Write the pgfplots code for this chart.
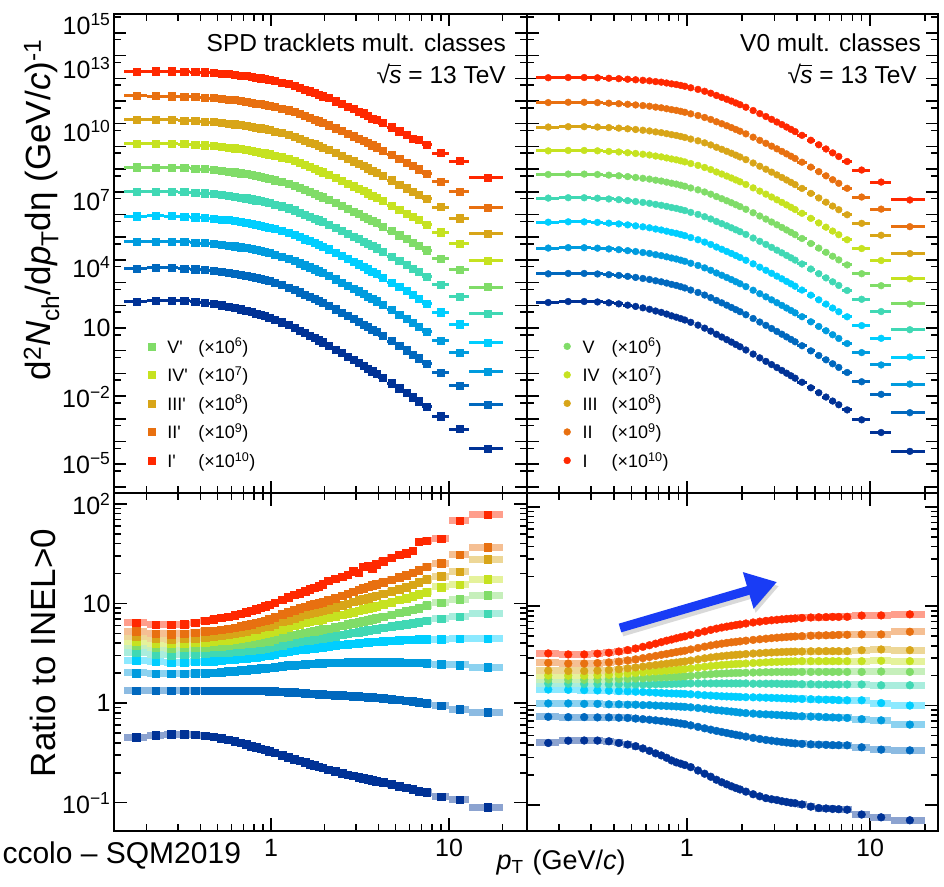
\documentclass[border=0pt]{standalone}
\usepackage{fontspec}
\setmainfont{Liberation Sans}
\usepackage{pgfplots}
\pgfplotsset{compat=1.18}
\usepackage{pgfplotstable}
\usetikzlibrary{arrows.meta}

\definecolor{cA}{RGB}{255,40,0}
\definecolor{cB}{RGB}{232,112,16}
\definecolor{cC}{RGB}{216,165,24}
\definecolor{cD}{RGB}{198,226,32}
\definecolor{cE}{RGB}{128,220,104}
\definecolor{cF}{RGB}{64,216,180}
\definecolor{cG}{RGB}{0,206,255}
\definecolor{cH}{RGB}{0,155,222}
\definecolor{cI}{RGB}{0,104,190}
\definecolor{cJ}{RGB}{0,50,150}
\definecolor{arrowblue}{RGB}{25,60,245}

% SPD tracklet classes: ratio to INEL>0 (c1 = I' ... c10 = X'), inel = INEL>0 spectrum
\pgfplotstableread{
pt ex inel c1 c2 c3 c4 c5 c6 c7 c8 c9 c10
0.175 0.025 31.6 6.4 5.25 4.7 4.2 3.8 3.25 2.68 2.01 1.33 0.455
0.225 0.025 33.1 6.15 5.0 4.45 4.0 3.6 3.1 2.6 1.98 1.33 0.475
0.275 0.025 33.1 6.15 4.95 4.4 3.95 3.55 3.05 2.57 1.97 1.33 0.49
0.325 0.025 31.6 6.2 5.0 4.45 4.0 3.6 3.1 2.58 1.98 1.33 0.49
0.375 0.025 29.5 6.4 5.1 4.5 4.05 3.62 3.12 2.6 1.99 1.33 0.48
0.425 0.025 27.5 6.75 5.25 4.6 4.1 3.65 3.15 2.62 2.01 1.33 0.47
0.475 0.025 25.1 7.0 5.35 4.7 4.15 3.7 3.2 2.65 2.03 1.33 0.46
0.525 0.025 22.9 7.2 5.45 4.8 4.25 3.75 3.22 2.68 2.05 1.33 0.445
0.575 0.025 20.9 7.4 5.6 4.9 4.3 3.8 3.25 2.72 2.08 1.33 0.43
0.625 0.025 19.1 7.65 5.75 5.0 4.4 3.85 3.3 2.75 2.1 1.33 0.415
0.675 0.025 17.0 7.9 5.9 5.15 4.5 3.9 3.33 2.79 2.13 1.33 0.40
0.725 0.025 15.5 8.2 6.05 5.3 4.6 3.95 3.37 2.83 2.15 1.33 0.385
0.775 0.025 13.8 8.5 6.25 5.45 4.7 4.0 3.42 2.87 2.18 1.33 0.372
0.825 0.025 12.3 8.8 6.4 5.55 4.8 4.05 3.46 2.91 2.2 1.33 0.36
0.875 0.025 11.2 9.1 6.6 5.7 4.9 4.1 3.5 2.95 2.23 1.33 0.35
0.925 0.025 10.0 9.4 6.75 5.85 5.0 4.15 3.55 2.99 2.25 1.33 0.34
0.975 0.025 8.91 9.7 6.95 5.95 5.1 4.2 3.6 3.03 2.27 1.32 0.33
1.05 0.05 7.41 10.2 7.3 6.2 5.3 4.35 3.7 3.12 2.31 1.31 0.318
1.15 0.05 6.03 10.9 7.8 6.55 5.55 4.55 3.82 3.22 2.35 1.30 0.302
1.25 0.05 4.79 11.6 8.2 6.85 5.8 4.7 3.94 3.3 2.39 1.29 0.288
1.35 0.05 3.80 12.3 8.6 7.15 6.05 4.85 4.05 3.37 2.42 1.28 0.275
1.45 0.05 2.95 12.8 9.0 7.45 6.25 5.0 4.15 3.43 2.44 1.27 0.264
1.55 0.05 2.37 13.4 9.3 7.7 6.45 5.1 4.22 3.48 2.46 1.26 0.254
1.65 0.05 1.91 14.0 9.6 7.9 6.6 5.2 4.3 3.53 2.48 1.25 0.245
1.75 0.05 1.56 14.5 9.9 8.1 6.75 5.3 4.36 3.58 2.5 1.24 0.237
1.85 0.05 1.27 15.0 10.1 8.3 6.85 5.4 4.42 3.62 2.51 1.235 0.23
1.95 0.05 1.05 15.6 10.3 8.45 7.0 5.5 4.48 3.66 2.52 1.23 0.224
2.1 0.1 0.791 17.0 10.8 8.8 7.2 5.6 4.58 3.72 2.54 1.22 0.215
2.3 0.1 0.555 17.8 11.4 9.2 7.5 5.8 4.72 3.8 2.55 1.21 0.206
2.5 0.1 0.397 18.6 12.0 9.6 7.75 6.0 4.85 3.86 2.56 1.2 0.198
2.7 0.1 0.290 19.5 12.6 10.0 8.0 6.2 4.97 3.92 2.57 1.19 0.192
2.9 0.1 0.215 21.0 13.2 10.4 8.25 6.35 5.08 3.97 2.57 1.18 0.186
3.1 0.1 0.162 20.5 13.8 10.8 8.5 6.5 5.18 4.02 2.57 1.17 0.18
3.3 0.1 0.124 23.5 14.3 11.1 8.75 6.7 5.28 4.06 2.57 1.16 0.176
3.5 0.1 0.0957 24.0 14.8 11.4 9.0 6.85 5.37 4.1 2.57 1.15 0.172
3.7 0.1 0.0750 22.5 15.2 11.7 9.2 7.0 5.46 4.13 2.57 1.14 0.168
3.9 0.1 0.0593 25.0 15.6 12.0 9.4 7.15 5.55 4.16 2.57 1.13 0.165
4.25 0.25 0.0403 26.5 16.3 12.6 9.8 7.4 5.7 4.2 2.57 1.12 0.16
4.75 0.25 0.0242 29.0 17.3 13.3 10.3 7.75 5.9 4.25 2.57 1.10 0.153
5.25 0.25 0.0152 31.0 18.3 14.0 10.9 8.1 6.05 4.3 2.57 1.08 0.147
5.75 0.25 0.00989 32.0 19.3 14.7 11.4 8.4 6.2 4.32 2.56 1.06 0.141
6.25 0.25 0.00665 34.0 20.5 15.5 11.9 8.7 6.35 4.34 2.55 1.04 0.136
6.75 0.25 0.00460 42.0 21.5 16.3 12.4 9.0 6.5 4.36 2.54 1.02 0.131
7.5 0.5 0.00276 43.0 23.5 17.5 13.1 9.6 6.75 4.36 2.52 1.0 0.127
9.0 1.0 0.00113 45.0 25.3 18.9 14.7 10.2 7.05 4.36 2.46 0.94 0.115
11.5 1.5 0.000332 68.0 31.0 20.9 15.5 11.1 7.35 4.43 2.42 0.87 0.107
16.5 3.5 0.0000526 78.0 37.0 27.8 17.5 12.1 7.9 4.43 2.29 0.81 0.09
}\spd

% V0 classes: ratio to INEL>0 (c1 = I ... c10 = X)
\pgfplotstableread{
pt ex inel c1 c2 c3 c4 c5 c6 c7 c8 c9 c10
0.175 0.025 31.6 3.35 2.69 2.25 2.01 1.83 1.67 1.45 1.05 0.77 0.42
0.225 0.025 33.1 3.27 2.65 2.23 2.0 1.82 1.66 1.44 1.05 0.765 0.443
0.275 0.025 33.1 3.27 2.65 2.23 2.0 1.82 1.65 1.43 1.04 0.765 0.445
0.325 0.025 31.6 3.33 2.68 2.25 2.02 1.83 1.65 1.42 1.04 0.76 0.444
0.375 0.025 29.5 3.4 2.72 2.28 2.04 1.84 1.64 1.41 1.03 0.76 0.437
0.425 0.025 27.5 3.5 2.77 2.32 2.07 1.85 1.64 1.4 1.03 0.755 0.42
0.475 0.025 25.1 3.62 2.85 2.37 2.1 1.86 1.63 1.39 1.02 0.75 0.405
0.525 0.025 22.9 3.75 2.92 2.42 2.13 1.87 1.63 1.38 1.02 0.74 0.39
0.575 0.025 20.9 3.9 3.0 2.47 2.16 1.88 1.63 1.37 1.01 0.73 0.37
0.625 0.025 19.1 4.05 3.08 2.52 2.19 1.9 1.63 1.36 1.01 0.72 0.35
0.675 0.025 17.0 4.2 3.16 2.56 2.21 1.91 1.64 1.35 1.0 0.71 0.33
0.725 0.025 15.5 4.35 3.24 2.6 2.23 1.92 1.64 1.34 0.995 0.70 0.315
0.775 0.025 13.8 4.5 3.31 2.64 2.25 1.93 1.65 1.33 0.99 0.69 0.298
0.825 0.025 12.3 4.62 3.38 2.68 2.27 1.94 1.65 1.325 0.985 0.68 0.28
0.875 0.025 11.2 4.75 3.45 2.71 2.29 1.95 1.66 1.32 0.98 0.67 0.268
0.925 0.025 10.0 4.87 3.51 2.75 2.31 1.96 1.66 1.315 0.975 0.66 0.26
0.975 0.025 8.91 4.98 3.57 2.78 2.33 1.97 1.67 1.31 0.97 0.65 0.252
1.05 0.05 7.41 5.15 3.67 2.84 2.37 1.99 1.67 1.3 0.96 0.632 0.24
1.15 0.05 6.03 5.38 3.8 2.92 2.42 2.02 1.67 1.285 0.945 0.61 0.222
1.25 0.05 4.79 5.58 3.92 2.99 2.46 2.05 1.67 1.27 0.93 0.59 0.206
1.35 0.05 3.80 5.78 4.03 3.05 2.5 2.07 1.67 1.26 0.915 0.572 0.192
1.45 0.05 2.95 5.95 4.12 3.1 2.53 2.09 1.67 1.25 0.9 0.556 0.179
1.55 0.05 2.37 6.1 4.2 3.14 2.56 2.1 1.67 1.24 0.89 0.542 0.169
1.65 0.05 1.91 6.23 4.27 3.18 2.58 2.11 1.67 1.235 0.88 0.53 0.161
1.75 0.05 1.56 6.35 4.33 3.21 2.6 2.12 1.67 1.23 0.87 0.518 0.154
1.85 0.05 1.27 6.46 4.38 3.24 2.62 2.13 1.67 1.225 0.86 0.508 0.148
1.95 0.05 1.05 6.56 4.43 3.26 2.63 2.13 1.67 1.22 0.85 0.499 0.143
2.1 0.1 0.791 6.7 4.5 3.3 2.65 2.14 1.67 1.215 0.84 0.487 0.136
2.3 0.1 0.555 6.86 4.58 3.34 2.68 2.15 1.66 1.21 0.83 0.473 0.128
2.5 0.1 0.397 7.0 4.65 3.37 2.7 2.16 1.66 1.205 0.82 0.461 0.122
2.7 0.1 0.290 7.12 4.71 3.4 2.72 2.17 1.66 1.2 0.815 0.451 0.117
2.9 0.1 0.215 7.22 4.77 3.42 2.74 2.17 1.66 1.195 0.81 0.443 0.114
3.1 0.1 0.162 7.3 4.82 3.44 2.75 2.18 1.66 1.19 0.805 0.436 0.112
3.3 0.1 0.124 7.38 4.86 3.46 2.76 2.18 1.65 1.185 0.8 0.43 0.109
3.5 0.1 0.0957 7.45 4.9 3.47 2.77 2.18 1.65 1.18 0.795 0.425 0.107
3.7 0.1 0.0750 7.5 4.93 3.48 2.78 2.18 1.65 1.175 0.79 0.42 0.105
3.9 0.1 0.0593 7.55 4.96 3.49 2.79 2.18 1.65 1.17 0.785 0.416 0.104
4.25 0.25 0.0403 7.62 5.0 3.5 2.8 2.18 1.64 1.165 0.78 0.411 0.101
4.75 0.25 0.0242 7.7 5.05 3.52 2.8 2.18 1.64 1.16 0.775 0.407 0.096
5.25 0.25 0.0152 7.75 5.08 3.53 2.8 2.18 1.63 1.15 0.77 0.404 0.093
5.75 0.25 0.00989 7.78 5.1 3.53 2.8 2.18 1.63 1.145 0.765 0.402 0.092
6.25 0.25 0.00665 7.8 5.12 3.53 2.8 2.18 1.63 1.14 0.76 0.4 0.091
6.75 0.25 0.00460 7.8 5.14 3.53 2.8 2.18 1.63 1.135 0.755 0.399 0.0905
7.5 0.5 0.00276 7.82 5.16 3.53 2.8 2.18 1.63 1.13 0.75 0.398 0.0895
9.0 1.0 0.00113 8.05 5.2 3.61 2.8 2.18 1.63 1.13 0.73 0.38 0.08
11.5 1.5 0.000332 8.08 5.2 3.67 2.82 2.2 1.6 1.06 0.71 0.36 0.075
16.5 3.5 0.0000526 8.28 5.53 3.61 2.8 2.18 1.6 1.0 0.643 0.354 0.07
}\vzero

\pgfplotsset{
  myaxbase/.style={scale only axis, clip=true,
    axis line style={line width=2.3pt},
    tick style={line width=1.5pt, black},
    tick align=inside, major tick length=13pt, minor tick length=7pt,
    tick label style={font=\fontsize{25}{25}\selectfont},
    xtick={1,10}, minor xtick={0.2,0.3,0.4,0.5,0.6,0.7,0.8,0.9,2,3,4,5,6,7,8,9,20}},
  myaxtop/.style={ymin=5.4e-7, ymax=6.8e14,
    ytick={1e-6,1e-5,1e-4,1e-3,1e-2,1e-1,1,10,1e2,1e3,1e4,1e5,1e6,1e7,1e8,1e9,1e10,1e11,1e12,1e13,1e14},
    minor ytick={5e-6,5e-5,5e-4,5e-3,5e-2,5e-1,5,50,5e2,5e3,5e4,5e5,5e6,5e7,5e8,5e9,5e10,5e11,5e12,5e13,5e14},
    major tick length=12pt, xticklabels={,}, yticklabels={}},
  myaxbot/.style={ymin=0.052, ymax=129, ytick={0.1,1,10,100}},
  mkSq/.style={only marks, mark=square*, mark size=3.6pt, color=#1, mark options={fill=#1, draw=#1}},
  mkSqR/.style={only marks, mark=square*, mark size=3.8pt, color=#1, mark options={fill=#1, draw=#1}},
  mkCi/.style={only marks, mark=*, mark size=3.4pt, color=#1, mark options={fill=#1, draw=#1}},
  mkCiR/.style={only marks, mark=*, mark size=3.9pt, color=#1, mark options={fill=#1, draw=#1}},
  barT/.style={forget plot, only marks, mark=none, color=#1,
    skip coords between index={8}{37},
    error bars/x dir=both, error bars/x explicit, error bars/error mark=none,
    error bars/error bar style={line width=3pt, color=#1}},
  barB/.style={forget plot, only marks, mark=none, color=#1,
    skip coords between index={8}{37},
    error bars/x dir=both, error bars/x explicit, error bars/error mark=none,
    error bars/error bar style={line width=7pt, color=#1!45!white}},
  myleg/.style={legend style={draw=none, fill=none, inner sep=0pt, row sep=8pt, column sep=10pt,
    font=\fontsize{18}{18}\selectfont, at={(#1,0.328)}, anchor=north west},
    legend cell align=left},
}
% spectrum series: table, mark style, bar style, colour, column, scale factor, extra options
\newcommand\SPEC[7]{%
  \addplot[#3=#4] table[x=pt, y expr=\thisrow{#5}*\thisrow{inel}*#6, x error=ex]{#1};
  \addplot[#2=#4, #7] table[x=pt, y expr=\thisrow{#5}*\thisrow{inel}*#6]{#1};}
% ratio series: table, mark style, bar style, colour, column
\newcommand\RAT[5]{%
  \addplot[#3=#4] table[x=pt, y=#5, x error=ex]{#1};
  \addplot[#2=#4, forget plot] table[x=pt, y=#5]{#1};}
% square root of s, set in the text font with a bar over the s
\newcommand\sqrts{√\kern-0.6pt\rlap{\rule[17.6pt]{11.5pt}{1.3pt}}\textit{s}}

\begin{document}
\begin{tikzpicture}[x=1pt,y=1pt]
\useasboundingbox (0,0) rectangle (944,886);

% ---------------- top left: SPD spectra ----------------
\begin{axis}[xmode=log, ymode=log, myaxbase, myaxtop, at={(114pt,393pt)}, anchor=south west,
  width=413pt, height=479pt, xmin=0.131, xmax=27.4,
  extra y ticks={2.45e14,2.82e12,4.79e9,4.37e6,4.9e3,10,9.12e-3,1.12e-5},
  extra y tick labels={10\textsuperscript{15},10\textsuperscript{13},10\textsuperscript{10},10\textsuperscript{7},10\textsuperscript{4},10,10\textsuperscript{−2},10\textsuperscript{−5}},
  extra y tick style={major tick length=0pt}, myleg=0.082]
\SPEC{\spd}{mkSq}{barT}{cJ}{c10}{1e1}{forget plot}
\SPEC{\spd}{mkSq}{barT}{cI}{c9}{1e2}{forget plot}
\SPEC{\spd}{mkSq}{barT}{cH}{c8}{1e3}{forget plot}
\SPEC{\spd}{mkSq}{barT}{cG}{c7}{1e4}{forget plot}
\SPEC{\spd}{mkSq}{barT}{cF}{c6}{1e5}{forget plot}
\SPEC{\spd}{mkSq}{barT}{cE}{c5}{1e6}{}
\addlegendentry{\makebox[31pt][l]{V\textquotesingle}(×10\textsuperscript{6})}
\SPEC{\spd}{mkSq}{barT}{cD}{c4}{1e7}{}
\addlegendentry{\makebox[31pt][l]{IV\textquotesingle}(×10\textsuperscript{7})}
\SPEC{\spd}{mkSq}{barT}{cC}{c3}{1e8}{}
\addlegendentry{\makebox[31pt][l]{III\textquotesingle}(×10\textsuperscript{8})}
\SPEC{\spd}{mkSq}{barT}{cB}{c2}{1e9}{}
\addlegendentry{\makebox[31pt][l]{II\textquotesingle}(×10\textsuperscript{9})}
\SPEC{\spd}{mkSq}{barT}{cA}{c1}{1e10}{}
\addlegendentry{\makebox[31pt][l]{I\textquotesingle}(×10\textsuperscript{10})}
\end{axis}

% ---------------- top right: V0 spectra ----------------
\begin{axis}[xmode=log, ymode=log, myaxbase, myaxtop, at={(527pt,393pt)}, anchor=south west,
  width=411pt, height=479pt, xmin=0.134, xmax=23.5, myleg=0.089]
\SPEC{\vzero}{mkCi}{barT}{cJ}{c10}{1e1}{forget plot}
\SPEC{\vzero}{mkCi}{barT}{cI}{c9}{1e2}{forget plot}
\SPEC{\vzero}{mkCi}{barT}{cH}{c8}{1e3}{forget plot}
\SPEC{\vzero}{mkCi}{barT}{cG}{c7}{1e4}{forget plot}
\SPEC{\vzero}{mkCi}{barT}{cF}{c6}{1e5}{forget plot}
\SPEC{\vzero}{mkCi}{barT}{cE}{c5}{1e6}{}
\addlegendentry{\makebox[29pt][l]{V}(×10\textsuperscript{6})}
\SPEC{\vzero}{mkCi}{barT}{cD}{c4}{1e7}{}
\addlegendentry{\makebox[29pt][l]{IV}(×10\textsuperscript{7})}
\SPEC{\vzero}{mkCi}{barT}{cC}{c3}{1e8}{}
\addlegendentry{\makebox[29pt][l]{III}(×10\textsuperscript{8})}
\SPEC{\vzero}{mkCi}{barT}{cB}{c2}{1e9}{}
\addlegendentry{\makebox[29pt][l]{II}(×10\textsuperscript{9})}
\SPEC{\vzero}{mkCi}{barT}{cA}{c1}{1e10}{}
\addlegendentry{\makebox[29pt][l]{I}(×10\textsuperscript{10})}
\end{axis}

% ---------------- bottom left: SPD ratios ----------------
\begin{axis}[xmode=log, ymode=log, myaxbase, myaxbot, at={(114pt,55pt)}, anchor=south west,
  width=413pt, height=338pt, xmin=0.131, xmax=27.4,
  xticklabels={1,10}, xticklabel style={yshift=-5pt},
  yticklabels={10\textsuperscript{−1},1,10,10\textsuperscript{2}}]
\RAT{\spd}{mkSqR}{barB}{cJ}{c10}
\RAT{\spd}{mkSqR}{barB}{cI}{c9}
\RAT{\spd}{mkSqR}{barB}{cH}{c8}
\RAT{\spd}{mkSqR}{barB}{cG}{c7}
\RAT{\spd}{mkSqR}{barB}{cF}{c6}
\RAT{\spd}{mkSqR}{barB}{cE}{c5}
\RAT{\spd}{mkSqR}{barB}{cD}{c4}
\RAT{\spd}{mkSqR}{barB}{cC}{c3}
\RAT{\spd}{mkSqR}{barB}{cB}{c2}
\RAT{\spd}{mkSqR}{barB}{cA}{c1}
\end{axis}

% ---------------- bottom right: V0 ratios ----------------
\begin{axis}[xmode=log, ymode=log, myaxbase, myaxbot, at={(527pt,55pt)}, anchor=south west,
  width=411pt, height=338pt, xmin=0.134, xmax=23.5, ymin=0.0546, ymax=138,
  xticklabels={1,10}, xticklabel style={yshift=-5pt}, yticklabels={}]
\RAT{\vzero}{mkCiR}{barB}{cJ}{c10}
\RAT{\vzero}{mkCiR}{barB}{cI}{c9}
\RAT{\vzero}{mkCiR}{barB}{cH}{c8}
\RAT{\vzero}{mkCiR}{barB}{cG}{c7}
\RAT{\vzero}{mkCiR}{barB}{cF}{c6}
\RAT{\vzero}{mkCiR}{barB}{cE}{c5}
\RAT{\vzero}{mkCiR}{barB}{cD}{c4}
\RAT{\vzero}{mkCiR}{barB}{cC}{c3}
\RAT{\vzero}{mkCiR}{barB}{cB}{c2}
\RAT{\vzero}{mkCiR}{barB}{cA}{c1}
\end{axis}

% annotations
\draw[line width=9pt, black, opacity=0.15, -{Triangle[length=30pt,width=36pt]}] (622,254) -- (779,300);
\draw[line width=9pt, arrowblue, -{Triangle[length=30pt,width=36pt]}] (620,258) -- (777,304);

\node[inner sep=0pt, anchor=base east, font=\fontsize{24.5}{24.5}\selectfont] at (506,834) {SPD tracklets mult. classes};
\node[inner sep=0pt, anchor=base east, font=\fontsize{24.5}{24.5}\selectfont] at (506,802) {\sqrts\ = 13 TeV};
\node[inner sep=0pt, anchor=base east, font=\fontsize{24.5}{24.5}\selectfont] at (921,834) {V0 mult. classes};
\node[inner sep=0pt, anchor=base east, font=\fontsize{24.5}{24.5}\selectfont] at (917,802) {\sqrts\ = 13 TeV};

\node[rotate=90, anchor=base, font=\fontsize{35}{35}\selectfont] at (50,676)
  {d\textsuperscript{2}\textit{N}\textsubscript{ch}/d\textit{p}\textsubscript{T}dη (GeV/\textit{c})\textsuperscript{-1}};
\node[rotate=90, anchor=base, font=\fontsize{35}{35}\selectfont] at (55,233) {Ratio to INEL>0};
\node[anchor=base west, font=\fontsize{27}{27}\selectfont] at (493,17) {\textit{p}\textsubscript{T}\hspace{9pt}(GeV/\textit{c})};
\node[anchor=base west, font=\fontsize{30}{30}\selectfont] at (-1,23) {ccolo – SQM2019};
\end{tikzpicture}
\end{document}
